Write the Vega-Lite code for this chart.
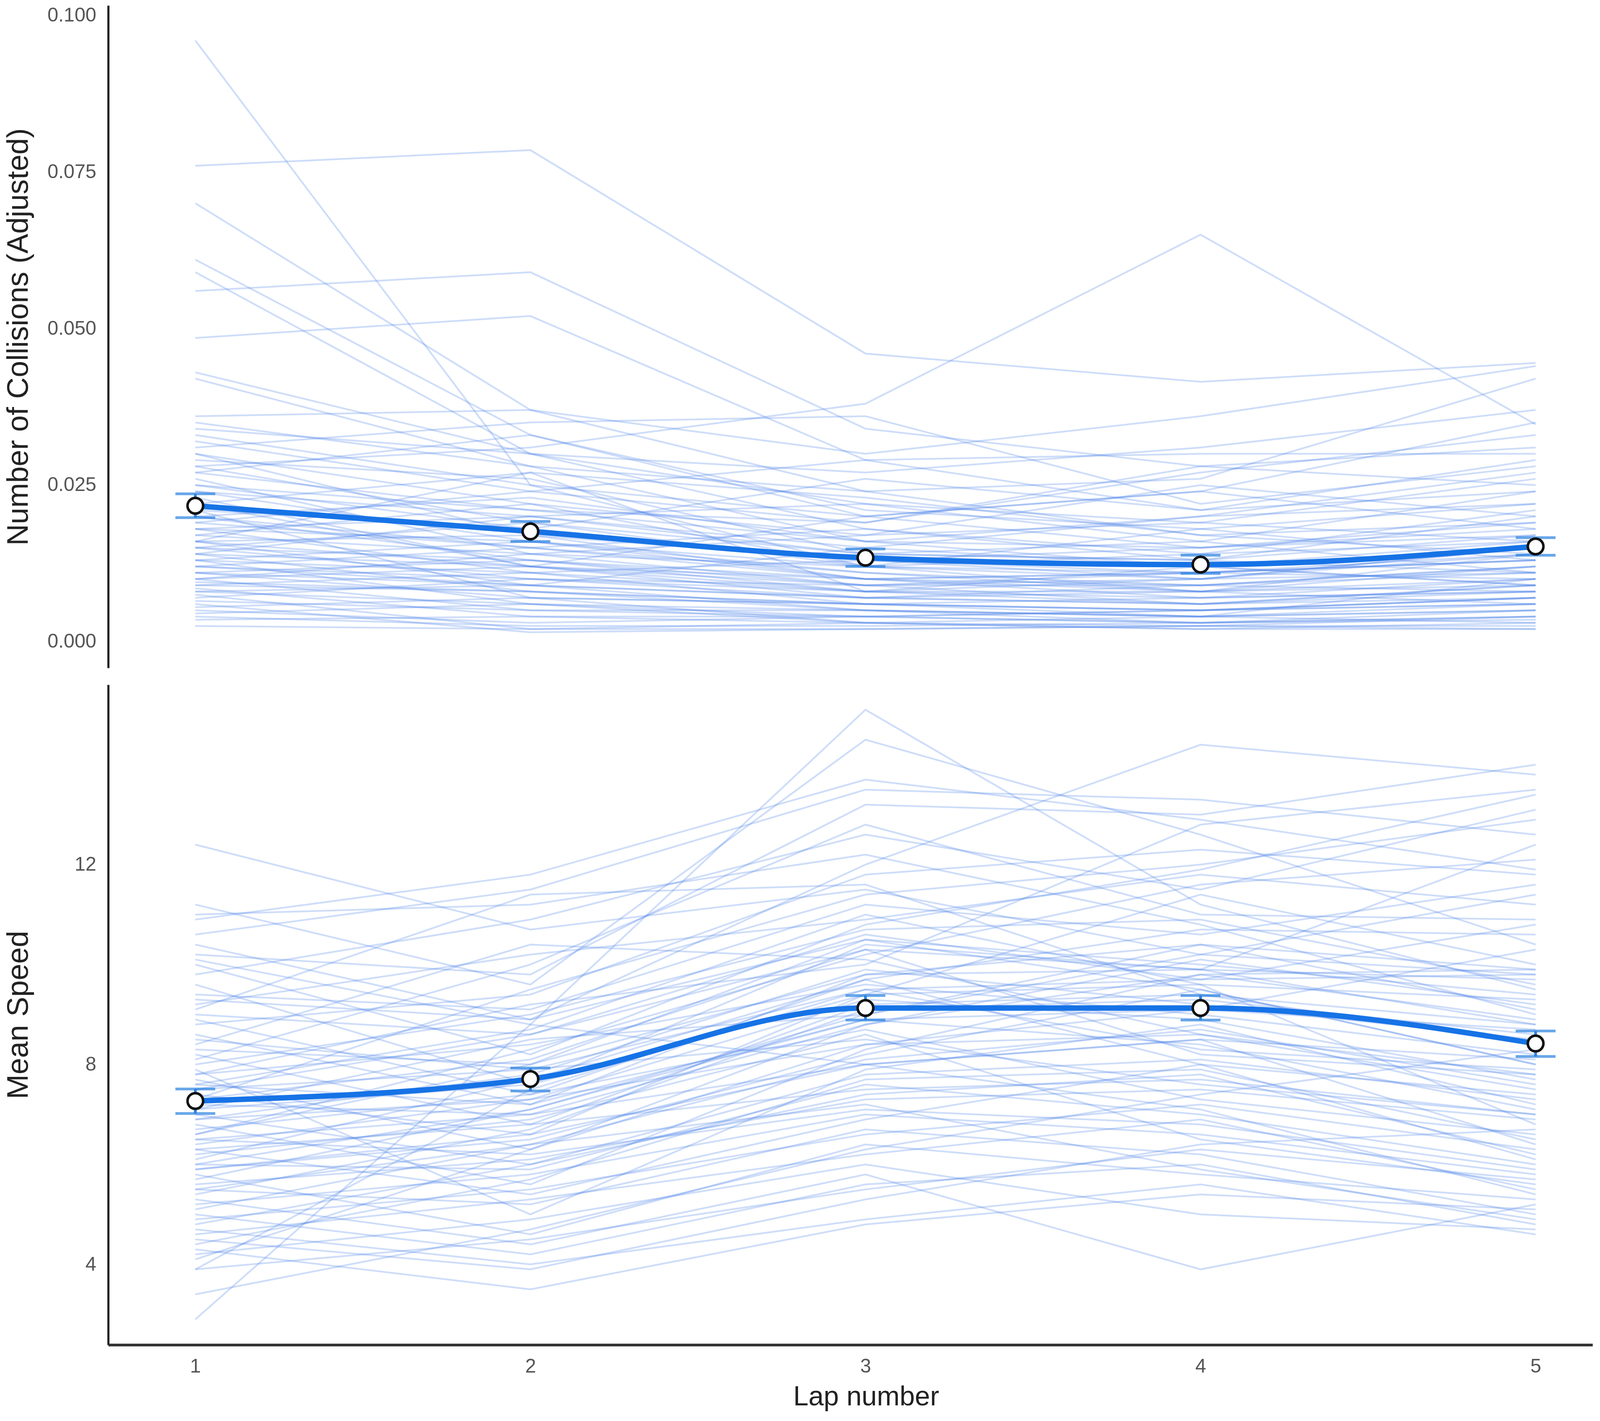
{
  "$schema": "https://vega.github.io/schema/vega-lite/v6.json",
  "padding": {"left": 9, "top": 14, "right": 16, "bottom": 8},
  "background": "white",
  "config": {
    "view": {"stroke": null},
    "font": "Liberation Sans",
    "axis": {
      "grid": false,
      "ticks": false,
      "domainColor": "#222222",
      "domainWidth": 5.5,
      "labelFont": "Liberation Sans",
      "labelFontSize": 50,
      "labelColor": "#555555",
      "labelPadding": 31,
      "titleFont": "Liberation Sans",
      "titleFontWeight": "normal",
      "titleColor": "#222222"
    },
    "axisY": {"titleAngle": 270, "titleBaseline": "middle", "titleX": -230, "titleFontSize": 76},
    "axisX": {"titleBaseline": "middle", "titleY": 133, "titleX": 1940, "titleFontSize": 70, "labelPadding": 30, "domainWidth": 7, "domainColor": "#333333"}
  },
  "datasets": {
    "subjects": [
      {"subject":1,"lap":1,"collisions":0.096,"speed":2.9},{"subject":1,"lap":2,"collisions":0.025,"speed":8.8},{"subject":1,"lap":3,"collisions":0.012,"speed":15.1},{"subject":1,"lap":4,"collisions":0.008,"speed":11.2},{"subject":1,"lap":5,"collisions":0.006,"speed":9.5},
      {"subject":2,"lap":1,"collisions":0.076,"speed":12.4},{"subject":2,"lap":2,"collisions":0.0785,"speed":10.7},{"subject":2,"lap":3,"collisions":0.046,"speed":11.5},{"subject":2,"lap":4,"collisions":0.0415,"speed":10.2},{"subject":2,"lap":5,"collisions":0.0445,"speed":9.8},
      {"subject":3,"lap":1,"collisions":0.070,"speed":11.2},{"subject":3,"lap":2,"collisions":0.037,"speed":9.6},{"subject":3,"lap":3,"collisions":0.024,"speed":14.5},{"subject":3,"lap":4,"collisions":0.017,"speed":12.6},{"subject":3,"lap":5,"collisions":0.014,"speed":10.4},
      {"subject":4,"lap":1,"collisions":0.061,"speed":10.9},{"subject":4,"lap":2,"collisions":0.033,"speed":11.8},{"subject":4,"lap":3,"collisions":0.020,"speed":13.7},{"subject":4,"lap":4,"collisions":0.015,"speed":12.9},{"subject":4,"lap":5,"collisions":0.018,"speed":11.9},
      {"subject":5,"lap":1,"collisions":0.059,"speed":10.6},{"subject":5,"lap":2,"collisions":0.030,"speed":11.5},{"subject":5,"lap":3,"collisions":0.022,"speed":13.5},{"subject":5,"lap":4,"collisions":0.019,"speed":13.3},{"subject":5,"lap":5,"collisions":0.016,"speed":12.6},
      {"subject":6,"lap":1,"collisions":0.056,"speed":10.4},{"subject":6,"lap":2,"collisions":0.059,"speed":8.9},{"subject":6,"lap":3,"collisions":0.034,"speed":12.0},{"subject":6,"lap":4,"collisions":0.028,"speed":14.4},{"subject":6,"lap":5,"collisions":0.025,"speed":13.8},
      {"subject":7,"lap":1,"collisions":0.0485,"speed":10.2},{"subject":7,"lap":2,"collisions":0.052,"speed":9.8},{"subject":7,"lap":3,"collisions":0.029,"speed":13.2},{"subject":7,"lap":4,"collisions":0.021,"speed":13.0},{"subject":7,"lap":5,"collisions":0.024,"speed":14.0},
      {"subject":8,"lap":1,"collisions":0.043,"speed":10.0},{"subject":8,"lap":2,"collisions":0.030,"speed":8.2},{"subject":8,"lap":3,"collisions":0.018,"speed":10.8},{"subject":8,"lap":4,"collisions":0.013,"speed":11.9},{"subject":8,"lap":5,"collisions":0.011,"speed":13.4},
      {"subject":9,"lap":1,"collisions":0.042,"speed":9.8},{"subject":9,"lap":2,"collisions":0.028,"speed":10.9},{"subject":9,"lap":3,"collisions":0.016,"speed":12.6},{"subject":9,"lap":4,"collisions":0.012,"speed":11.5},{"subject":9,"lap":5,"collisions":0.009,"speed":13.1},
      {"subject":10,"lap":1,"collisions":0.028,"speed":9.6},{"subject":10,"lap":2,"collisions":0.031,"speed":7.6},{"subject":10,"lap":3,"collisions":0.038,"speed":10.4},{"subject":10,"lap":4,"collisions":0.065,"speed":9.9},{"subject":10,"lap":5,"collisions":0.0347,"speed":12.4},
      {"subject":11,"lap":1,"collisions":0.036,"speed":9.4},{"subject":11,"lap":2,"collisions":0.037,"speed":9.1},{"subject":11,"lap":3,"collisions":0.030,"speed":11.2},{"subject":11,"lap":4,"collisions":0.036,"speed":10.6},{"subject":11,"lap":5,"collisions":0.044,"speed":11.6},
      {"subject":12,"lap":1,"collisions":0.035,"speed":9.2},{"subject":12,"lap":2,"collisions":0.028,"speed":10.2},{"subject":12,"lap":3,"collisions":0.024,"speed":10.9},{"subject":12,"lap":4,"collisions":0.026,"speed":11.8},{"subject":12,"lap":5,"collisions":0.042,"speed":11.2},
      {"subject":13,"lap":1,"collisions":0.034,"speed":9.0},{"subject":13,"lap":2,"collisions":0.030,"speed":8.6},{"subject":13,"lap":3,"collisions":0.027,"speed":10.6},{"subject":13,"lap":4,"collisions":0.031,"speed":9.7},{"subject":13,"lap":5,"collisions":0.037,"speed":10.8},
      {"subject":14,"lap":1,"collisions":0.033,"speed":8.8},{"subject":14,"lap":2,"collisions":0.025,"speed":9.4},{"subject":14,"lap":3,"collisions":0.020,"speed":11.8},{"subject":14,"lap":4,"collisions":0.024,"speed":12.3},{"subject":14,"lap":5,"collisions":0.035,"speed":11.8},
      {"subject":15,"lap":1,"collisions":0.032,"speed":8.6},{"subject":15,"lap":2,"collisions":0.024,"speed":7.2},{"subject":15,"lap":3,"collisions":0.029,"speed":9.8},{"subject":15,"lap":4,"collisions":0.030,"speed":10.4},{"subject":15,"lap":5,"collisions":0.030,"speed":9.9},
      {"subject":16,"lap":1,"collisions":0.031,"speed":8.4},{"subject":16,"lap":2,"collisions":0.035,"speed":10.4},{"subject":16,"lap":3,"collisions":0.036,"speed":10.1},{"subject":16,"lap":4,"collisions":0.022,"speed":8.6},{"subject":16,"lap":5,"collisions":0.028,"speed":7.5},
      {"subject":17,"lap":1,"collisions":0.030,"speed":8.2},{"subject":17,"lap":2,"collisions":0.022,"speed":6.8},{"subject":17,"lap":3,"collisions":0.017,"speed":9.2},{"subject":17,"lap":4,"collisions":0.019,"speed":9.4},{"subject":17,"lap":5,"collisions":0.026,"speed":8.8},
      {"subject":18,"lap":1,"collisions":0.029,"speed":8.0},{"subject":18,"lap":2,"collisions":0.026,"speed":9.0},{"subject":18,"lap":3,"collisions":0.014,"speed":10.7},{"subject":18,"lap":4,"collisions":0.013,"speed":10.9},{"subject":18,"lap":5,"collisions":0.020,"speed":9.6},
      {"subject":19,"lap":1,"collisions":0.028,"speed":7.9},{"subject":19,"lap":2,"collisions":0.019,"speed":5.0},{"subject":19,"lap":3,"collisions":0.012,"speed":7.9},{"subject":19,"lap":4,"collisions":0.010,"speed":8.8},{"subject":19,"lap":5,"collisions":0.014,"speed":7.2},
      {"subject":20,"lap":1,"collisions":0.027,"speed":7.8},{"subject":20,"lap":2,"collisions":0.033,"speed":8.4},{"subject":20,"lap":3,"collisions":0.021,"speed":9.6},{"subject":20,"lap":4,"collisions":0.018,"speed":9.0},{"subject":20,"lap":5,"collisions":0.022,"speed":8.2},
      {"subject":21,"lap":1,"collisions":0.026,"speed":7.7},{"subject":21,"lap":2,"collisions":0.014,"speed":6.3},{"subject":21,"lap":3,"collisions":0.009,"speed":8.8},{"subject":21,"lap":4,"collisions":0.011,"speed":10.1},{"subject":21,"lap":5,"collisions":0.013,"speed":9.2},
      {"subject":22,"lap":1,"collisions":0.025,"speed":7.6},{"subject":22,"lap":2,"collisions":0.021,"speed":8.7},{"subject":22,"lap":3,"collisions":0.019,"speed":11.0},{"subject":22,"lap":4,"collisions":0.028,"speed":9.6},{"subject":22,"lap":5,"collisions":0.031,"speed":6.8},
      {"subject":23,"lap":1,"collisions":0.024,"speed":7.5},{"subject":23,"lap":2,"collisions":0.016,"speed":7.9},{"subject":23,"lap":3,"collisions":0.010,"speed":8.5},{"subject":23,"lap":4,"collisions":0.008,"speed":7.6},{"subject":23,"lap":5,"collisions":0.012,"speed":7.0},
      {"subject":24,"lap":1,"collisions":0.023,"speed":7.4},{"subject":24,"lap":2,"collisions":0.012,"speed":6.6},{"subject":24,"lap":3,"collisions":0.007,"speed":9.4},{"subject":24,"lap":4,"collisions":0.006,"speed":11.4},{"subject":24,"lap":5,"collisions":0.009,"speed":10.0},
      {"subject":25,"lap":1,"collisions":0.022,"speed":7.3},{"subject":25,"lap":2,"collisions":0.027,"speed":8.1},{"subject":25,"lap":3,"collisions":0.023,"speed":10.3},{"subject":25,"lap":4,"collisions":0.017,"speed":8.2},{"subject":25,"lap":5,"collisions":0.019,"speed":7.8},
      {"subject":26,"lap":1,"collisions":0.021,"speed":7.2},{"subject":26,"lap":2,"collisions":0.018,"speed":7.0},{"subject":26,"lap":3,"collisions":0.013,"speed":8.0},{"subject":26,"lap":4,"collisions":0.015,"speed":8.5},{"subject":26,"lap":5,"collisions":0.017,"speed":6.4},
      {"subject":27,"lap":1,"collisions":0.020,"speed":7.1},{"subject":27,"lap":2,"collisions":0.013,"speed":8.5},{"subject":27,"lap":3,"collisions":0.008,"speed":9.0},{"subject":27,"lap":4,"collisions":0.007,"speed":10.4},{"subject":27,"lap":5,"collisions":0.010,"speed":9.1},
      {"subject":28,"lap":1,"collisions":0.020,"speed":7.0},{"subject":28,"lap":2,"collisions":0.023,"speed":6.0},{"subject":28,"lap":3,"collisions":0.016,"speed":7.4},{"subject":28,"lap":4,"collisions":0.020,"speed":7.8},{"subject":28,"lap":5,"collisions":0.027,"speed":6.2},
      {"subject":29,"lap":1,"collisions":0.019,"speed":6.9},{"subject":29,"lap":2,"collisions":0.015,"speed":7.8},{"subject":29,"lap":3,"collisions":0.011,"speed":9.9},{"subject":29,"lap":4,"collisions":0.009,"speed":9.2},{"subject":29,"lap":5,"collisions":0.008,"speed":8.5},
      {"subject":30,"lap":1,"collisions":0.018,"speed":6.8},{"subject":30,"lap":2,"collisions":0.020,"speed":5.6},{"subject":30,"lap":3,"collisions":0.015,"speed":8.3},{"subject":30,"lap":4,"collisions":0.012,"speed":9.8},{"subject":30,"lap":5,"collisions":0.016,"speed":8.9},
      {"subject":31,"lap":1,"collisions":0.018,"speed":6.7},{"subject":31,"lap":2,"collisions":0.011,"speed":7.4},{"subject":31,"lap":3,"collisions":0.006,"speed":8.7},{"subject":31,"lap":4,"collisions":0.005,"speed":7.3},{"subject":31,"lap":5,"collisions":0.007,"speed":6.6},
      {"subject":32,"lap":1,"collisions":0.017,"speed":6.6},{"subject":32,"lap":2,"collisions":0.014,"speed":8.0},{"subject":32,"lap":3,"collisions":0.012,"speed":10.5},{"subject":32,"lap":4,"collisions":0.014,"speed":10.0},{"subject":32,"lap":5,"collisions":0.021,"speed":9.4},
      {"subject":33,"lap":1,"collisions":0.016,"speed":6.5},{"subject":33,"lap":2,"collisions":0.009,"speed":6.2},{"subject":33,"lap":3,"collisions":0.005,"speed":7.1},{"subject":33,"lap":4,"collisions":0.004,"speed":6.8},{"subject":33,"lap":5,"collisions":0.006,"speed":5.9},
      {"subject":34,"lap":1,"collisions":0.016,"speed":6.4},{"subject":34,"lap":2,"collisions":0.017,"speed":7.3},{"subject":34,"lap":3,"collisions":0.010,"speed":9.3},{"subject":34,"lap":4,"collisions":0.011,"speed":8.9},{"subject":34,"lap":5,"collisions":0.013,"speed":7.7},
      {"subject":35,"lap":1,"collisions":0.015,"speed":6.3},{"subject":35,"lap":2,"collisions":0.010,"speed":5.4},{"subject":35,"lap":3,"collisions":0.008,"speed":6.9},{"subject":35,"lap":4,"collisions":0.006,"speed":8.0},{"subject":35,"lap":5,"collisions":0.009,"speed":7.4},
      {"subject":36,"lap":1,"collisions":0.015,"speed":6.2},{"subject":36,"lap":2,"collisions":0.019,"speed":6.9},{"subject":36,"lap":3,"collisions":0.014,"speed":8.6},{"subject":36,"lap":4,"collisions":0.016,"speed":6.5},{"subject":36,"lap":5,"collisions":0.024,"speed":5.6},
      {"subject":37,"lap":1,"collisions":0.014,"speed":6.1},{"subject":37,"lap":2,"collisions":0.008,"speed":7.7},{"subject":37,"lap":3,"collisions":0.005,"speed":9.7},{"subject":37,"lap":4,"collisions":0.003,"speed":10.7},{"subject":37,"lap":5,"collisions":0.004,"speed":10.6},
      {"subject":38,"lap":1,"collisions":0.014,"speed":6.0},{"subject":38,"lap":2,"collisions":0.012,"speed":5.9},{"subject":38,"lap":3,"collisions":0.009,"speed":7.6},{"subject":38,"lap":4,"collisions":0.010,"speed":7.0},{"subject":38,"lap":5,"collisions":0.011,"speed":6.0},
      {"subject":39,"lap":1,"collisions":0.013,"speed":5.9},{"subject":39,"lap":2,"collisions":0.016,"speed":6.5},{"subject":39,"lap":3,"collisions":0.011,"speed":8.2},{"subject":39,"lap":4,"collisions":0.008,"speed":9.5},{"subject":39,"lap":5,"collisions":0.014,"speed":8.0},
      {"subject":40,"lap":1,"collisions":0.013,"speed":5.8},{"subject":40,"lap":2,"collisions":0.006,"speed":4.6},{"subject":40,"lap":3,"collisions":0.004,"speed":6.4},{"subject":40,"lap":4,"collisions":0.005,"speed":5.8},{"subject":40,"lap":5,"collisions":0.007,"speed":5.3},
      {"subject":41,"lap":1,"collisions":0.012,"speed":5.7},{"subject":41,"lap":2,"collisions":0.010,"speed":7.1},{"subject":41,"lap":3,"collisions":0.007,"speed":8.9},{"subject":41,"lap":4,"collisions":0.009,"speed":8.4},{"subject":41,"lap":5,"collisions":0.012,"speed":7.1},
      {"subject":42,"lap":1,"collisions":0.012,"speed":5.6},{"subject":42,"lap":2,"collisions":0.015,"speed":6.1},{"subject":42,"lap":3,"collisions":0.018,"speed":7.3},{"subject":42,"lap":4,"collisions":0.014,"speed":7.5},{"subject":42,"lap":5,"collisions":0.016,"speed":6.9},
      {"subject":43,"lap":1,"collisions":0.011,"speed":5.5},{"subject":43,"lap":2,"collisions":0.007,"speed":5.2},{"subject":43,"lap":3,"collisions":0.003,"speed":6.7},{"subject":43,"lap":4,"collisions":0.0025,"speed":6.2},{"subject":43,"lap":5,"collisions":0.004,"speed":5.0},
      {"subject":44,"lap":1,"collisions":0.011,"speed":5.4},{"subject":44,"lap":2,"collisions":0.013,"speed":6.7},{"subject":44,"lap":3,"collisions":0.010,"speed":9.1},{"subject":44,"lap":4,"collisions":0.007,"speed":9.3},{"subject":44,"lap":5,"collisions":0.008,"speed":8.6},
      {"subject":45,"lap":1,"collisions":0.010,"speed":5.3},{"subject":45,"lap":2,"collisions":0.005,"speed":4.4},{"subject":45,"lap":3,"collisions":0.004,"speed":5.8},{"subject":45,"lap":4,"collisions":0.003,"speed":3.9},{"subject":45,"lap":5,"collisions":0.005,"speed":5.2},
      {"subject":46,"lap":1,"collisions":0.010,"speed":5.2},{"subject":46,"lap":2,"collisions":0.012,"speed":5.8},{"subject":46,"lap":3,"collisions":0.008,"speed":7.0},{"subject":46,"lap":4,"collisions":0.010,"speed":6.6},{"subject":46,"lap":5,"collisions":0.015,"speed":5.8},
      {"subject":47,"lap":1,"collisions":0.0095,"speed":5.1},{"subject":47,"lap":2,"collisions":0.008,"speed":6.4},{"subject":47,"lap":3,"collisions":0.006,"speed":8.1},{"subject":47,"lap":4,"collisions":0.005,"speed":8.7},{"subject":47,"lap":5,"collisions":0.006,"speed":7.6},
      {"subject":48,"lap":1,"collisions":0.009,"speed":5.0},{"subject":48,"lap":2,"collisions":0.011,"speed":4.2},{"subject":48,"lap":3,"collisions":0.013,"speed":5.6},{"subject":48,"lap":4,"collisions":0.011,"speed":6.0},{"subject":48,"lap":5,"collisions":0.010,"speed":4.8},
      {"subject":49,"lap":1,"collisions":0.0085,"speed":4.9},{"subject":49,"lap":2,"collisions":0.004,"speed":5.5},{"subject":49,"lap":3,"collisions":0.003,"speed":6.6},{"subject":49,"lap":4,"collisions":0.002,"speed":7.2},{"subject":49,"lap":5,"collisions":0.003,"speed":6.3},
      {"subject":50,"lap":1,"collisions":0.008,"speed":4.8},{"subject":50,"lap":2,"collisions":0.009,"speed":6.0},{"subject":50,"lap":3,"collisions":0.007,"speed":7.8},{"subject":50,"lap":4,"collisions":0.008,"speed":8.1},{"subject":50,"lap":5,"collisions":0.009,"speed":7.3},
      {"subject":51,"lap":1,"collisions":0.0075,"speed":4.7},{"subject":51,"lap":2,"collisions":0.002,"speed":4.0},{"subject":51,"lap":3,"collisions":0.003,"speed":4.9},{"subject":51,"lap":4,"collisions":0.004,"speed":5.6},{"subject":51,"lap":5,"collisions":0.003,"speed":4.6},
      {"subject":52,"lap":1,"collisions":0.007,"speed":4.6},{"subject":52,"lap":2,"collisions":0.010,"speed":5.3},{"subject":52,"lap":3,"collisions":0.009,"speed":6.2},{"subject":52,"lap":4,"collisions":0.006,"speed":6.9},{"subject":52,"lap":5,"collisions":0.007,"speed":5.5},
      {"subject":53,"lap":1,"collisions":0.0065,"speed":4.5},{"subject":53,"lap":2,"collisions":0.005,"speed":3.9},{"subject":53,"lap":3,"collisions":0.005,"speed":5.3},{"subject":53,"lap":4,"collisions":0.004,"speed":6.4},{"subject":53,"lap":5,"collisions":0.005,"speed":6.7},
      {"subject":54,"lap":1,"collisions":0.006,"speed":4.4},{"subject":54,"lap":2,"collisions":0.0015,"speed":5.7},{"subject":54,"lap":3,"collisions":0.002,"speed":7.7},{"subject":54,"lap":4,"collisions":0.0025,"speed":7.9},{"subject":54,"lap":5,"collisions":0.0025,"speed":6.5},
      {"subject":55,"lap":1,"collisions":0.0055,"speed":4.3},{"subject":55,"lap":2,"collisions":0.007,"speed":3.5},{"subject":55,"lap":3,"collisions":0.006,"speed":4.8},{"subject":55,"lap":4,"collisions":0.007,"speed":5.4},{"subject":55,"lap":5,"collisions":0.008,"speed":5.1},
      {"subject":56,"lap":1,"collisions":0.005,"speed":4.2},{"subject":56,"lap":2,"collisions":0.003,"speed":4.9},{"subject":56,"lap":3,"collisions":0.004,"speed":6.0},{"subject":56,"lap":4,"collisions":0.003,"speed":5.0},{"subject":56,"lap":5,"collisions":0.004,"speed":4.7},
      {"subject":57,"lap":1,"collisions":0.0045,"speed":4.1},{"subject":57,"lap":2,"collisions":0.006,"speed":6.3},{"subject":57,"lap":3,"collisions":0.003,"speed":8.4},{"subject":57,"lap":4,"collisions":0.002,"speed":9.1},{"subject":57,"lap":5,"collisions":0.002,"speed":10.3},
      {"subject":58,"lap":1,"collisions":0.004,"speed":3.9},{"subject":58,"lap":2,"collisions":0.0025,"speed":4.5},{"subject":58,"lap":3,"collisions":0.0025,"speed":5.5},{"subject":58,"lap":4,"collisions":0.003,"speed":6.3},{"subject":58,"lap":5,"collisions":0.0035,"speed":5.7},
      {"subject":59,"lap":1,"collisions":0.0035,"speed":3.4},{"subject":59,"lap":2,"collisions":0.004,"speed":4.7},{"subject":59,"lap":3,"collisions":0.004,"speed":6.3},{"subject":59,"lap":4,"collisions":0.005,"speed":7.4},{"subject":59,"lap":5,"collisions":0.006,"speed":8.3},
      {"subject":60,"lap":1,"collisions":0.0025,"speed":3.9},{"subject":60,"lap":2,"collisions":0.002,"speed":7.5},{"subject":60,"lap":3,"collisions":0.002,"speed":9.5},{"subject":60,"lap":4,"collisions":0.0025,"speed":8.3},{"subject":60,"lap":5,"collisions":0.002,"speed":7.9},
      {"subject":61,"lap":1,"collisions":0.017,"speed":11.0},{"subject":61,"lap":2,"collisions":0.022,"speed":11.2},{"subject":61,"lap":3,"collisions":0.012,"speed":12.2},{"subject":61,"lap":4,"collisions":0.018,"speed":10.8},{"subject":61,"lap":5,"collisions":0.013,"speed":9.0},
      {"subject":62,"lap":1,"collisions":0.022,"speed":9.1},{"subject":62,"lap":2,"collisions":0.012,"speed":11.4},{"subject":62,"lap":3,"collisions":0.020,"speed":11.6},{"subject":62,"lap":4,"collisions":0.024,"speed":9.4},{"subject":62,"lap":5,"collisions":0.018,"speed":8.4},
      {"subject":63,"lap":1,"collisions":0.025,"speed":8.1},{"subject":63,"lap":2,"collisions":0.018,"speed":10.0},{"subject":63,"lap":3,"collisions":0.026,"speed":12.8},{"subject":63,"lap":4,"collisions":0.021,"speed":11.0},{"subject":63,"lap":5,"collisions":0.029,"speed":10.9},
      {"subject":64,"lap":1,"collisions":0.019,"speed":7.3},{"subject":64,"lap":2,"collisions":0.024,"speed":9.5},{"subject":64,"lap":3,"collisions":0.019,"speed":11.4},{"subject":64,"lap":4,"collisions":0.027,"speed":12.0},{"subject":64,"lap":5,"collisions":0.033,"speed":12.9},
      {"subject":65,"lap":1,"collisions":0.014,"speed":6.6},{"subject":65,"lap":2,"collisions":0.020,"speed":8.3},{"subject":65,"lap":3,"collisions":0.022,"speed":10.2},{"subject":65,"lap":4,"collisions":0.016,"speed":11.6},{"subject":65,"lap":5,"collisions":0.011,"speed":12.1},
      {"subject":66,"lap":1,"collisions":0.030,"speed":6.0},{"subject":66,"lap":2,"collisions":0.017,"speed":7.1},{"subject":66,"lap":3,"collisions":0.013,"speed":9.0},{"subject":66,"lap":4,"collisions":0.010,"speed":10.2},{"subject":66,"lap":5,"collisions":0.015,"speed":11.4},
      {"subject":67,"lap":1,"collisions":0.012,"speed":8.9},{"subject":67,"lap":2,"collisions":0.009,"speed":7.4},{"subject":67,"lap":3,"collisions":0.015,"speed":9.7},{"subject":67,"lap":4,"collisions":0.020,"speed":8.0},{"subject":67,"lap":5,"collisions":0.022,"speed":6.1},
      {"subject":68,"lap":1,"collisions":0.016,"speed":10.1},{"subject":68,"lap":2,"collisions":0.027,"speed":8.8},{"subject":68,"lap":3,"collisions":0.008,"speed":8.0},{"subject":68,"lap":4,"collisions":0.012,"speed":7.1},{"subject":68,"lap":5,"collisions":0.009,"speed":5.4},
      {"subject":69,"lap":1,"collisions":0.021,"speed":5.5},{"subject":69,"lap":2,"collisions":0.007,"speed":6.4},{"subject":69,"lap":3,"collisions":0.006,"speed":7.2},{"subject":69,"lap":4,"collisions":0.004,"speed":5.9},{"subject":69,"lap":5,"collisions":0.010,"speed":4.9},
      {"subject":70,"lap":1,"collisions":0.010,"speed":7.8},{"subject":70,"lap":2,"collisions":0.014,"speed":9.2},{"subject":70,"lap":3,"collisions":0.017,"speed":10.0},{"subject":70,"lap":4,"collisions":0.025,"speed":12.8},{"subject":70,"lap":5,"collisions":0.020,"speed":13.5},
      {"subject":71,"lap":1,"collisions":0.020,"speed":8.3},{"subject":71,"lap":2,"collisions":0.015,"speed":8.0},{"subject":71,"lap":3,"collisions":0.010,"speed":9.8},{"subject":71,"lap":4,"collisions":0.011,"speed":9.9},{"subject":71,"lap":5,"collisions":0.014,"speed":9.7},
      {"subject":72,"lap":1,"collisions":0.015,"speed":7.1},{"subject":72,"lap":2,"collisions":0.013,"speed":7.6},{"subject":72,"lap":3,"collisions":0.009,"speed":9.4},{"subject":72,"lap":4,"collisions":0.009,"speed":9.6},{"subject":72,"lap":5,"collisions":0.012,"speed":9.3},
      {"subject":73,"lap":1,"collisions":0.013,"speed":6.5},{"subject":73,"lap":2,"collisions":0.011,"speed":7.0},{"subject":73,"lap":3,"collisions":0.008,"speed":8.8},{"subject":73,"lap":4,"collisions":0.008,"speed":9.8},{"subject":73,"lap":5,"collisions":0.010,"speed":9.9},
      {"subject":74,"lap":1,"collisions":0.018,"speed":7.5},{"subject":74,"lap":2,"collisions":0.016,"speed":8.6},{"subject":74,"lap":3,"collisions":0.012,"speed":10.3},{"subject":74,"lap":4,"collisions":0.011,"speed":9.9},{"subject":74,"lap":5,"collisions":0.013,"speed":8.8},
      {"subject":75,"lap":1,"collisions":0.009,"speed":6.9},{"subject":75,"lap":2,"collisions":0.008,"speed":7.3},{"subject":75,"lap":3,"collisions":0.006,"speed":8.4},{"subject":75,"lap":4,"collisions":0.005,"speed":8.6},{"subject":75,"lap":5,"collisions":0.007,"speed":7.8},
      {"subject":76,"lap":1,"collisions":0.024,"speed":8.5},{"subject":76,"lap":2,"collisions":0.020,"speed":7.9},{"subject":76,"lap":3,"collisions":0.014,"speed":9.5},{"subject":76,"lap":4,"collisions":0.013,"speed":9.7},{"subject":76,"lap":5,"collisions":0.017,"speed":9.8},
      {"subject":77,"lap":1,"collisions":0.011,"speed":5.9},{"subject":77,"lap":2,"collisions":0.009,"speed":6.6},{"subject":77,"lap":3,"collisions":0.007,"speed":8.0},{"subject":77,"lap":4,"collisions":0.006,"speed":8.5},{"subject":77,"lap":5,"collisions":0.008,"speed":8.1},
      {"subject":78,"lap":1,"collisions":0.027,"speed":9.3},{"subject":78,"lap":2,"collisions":0.021,"speed":8.9},{"subject":78,"lap":3,"collisions":0.016,"speed":10.5},{"subject":78,"lap":4,"collisions":0.015,"speed":9.5},{"subject":78,"lap":5,"collisions":0.019,"speed":8.0},
      {"subject":79,"lap":1,"collisions":0.008,"speed":6.3},{"subject":79,"lap":2,"collisions":0.006,"speed":6.8},{"subject":79,"lap":3,"collisions":0.005,"speed":7.5},{"subject":79,"lap":4,"collisions":0.004,"speed":7.7},{"subject":79,"lap":5,"collisions":0.005,"speed":7.0},
      {"subject":80,"lap":1,"collisions":0.016,"speed":7.6},{"subject":80,"lap":2,"collisions":0.012,"speed":7.2},{"subject":80,"lap":3,"collisions":0.010,"speed":8.9},{"subject":80,"lap":4,"collisions":0.009,"speed":9.1},{"subject":80,"lap":5,"collisions":0.011,"speed":8.7}
    ],
    "means": [
      {"lap":1,"col_mean":0.0217,"col_lo":0.0198,"col_hi":0.0236,"spd_mean":7.27,"spd_lo":7.02,"spd_hi":7.51},
      {"lap":2,"col_mean":0.0176,"col_lo":0.0160,"col_hi":0.0192,"spd_mean":7.71,"spd_lo":7.47,"spd_hi":7.93},
      {"lap":3,"col_mean":0.0134,"col_lo":0.0120,"col_hi":0.0148,"spd_mean":9.13,"spd_lo":8.89,"spd_hi":9.38},
      {"lap":4,"col_mean":0.0123,"col_lo":0.0109,"col_hi":0.0138,"spd_mean":9.13,"spd_lo":8.89,"spd_hi":9.38},
      {"lap":5,"col_mean":0.0152,"col_lo":0.0138,"col_hi":0.0166,"spd_mean":8.42,"spd_lo":8.16,"spd_hi":8.67}
    ]
  },
  "spacing": 43,
  "vconcat": [
    {
      "width": 3800,
      "height": 1696,
      "layer": [
        {
          "data": {"name": "subjects"},
          "mark": {"type": "line", "color": "#4f86e8", "strokeWidth": 4.5, "opacity": 0.28},
          "encoding": {
            "x": {"field": "lap", "type": "quantitative", "scale": {"domain": [0.74, 5.17], "nice": false, "zero": false}, "axis": null},
            "y": {"field": "collisions", "type": "quantitative", "title": "Number of Collisions (Adjusted)", "scale": {"domain": [-0.0042, 0.1016], "nice": false, "zero": false}, "axis": {"values": [0, 0.025, 0.05, 0.075, 0.1], "format": ".3f"}},
            "detail": {"field": "subject", "type": "nominal"}
          }
        },
        {
          "data": {"name": "means"},
          "mark": {"type": "errorbar", "ticks": {"size": 102, "thickness": 7, "color": "#2a82e0"}, "rule": {"strokeWidth": 7, "color": "#2a82e0"}},
          "encoding": {
            "x": {"field": "lap", "type": "quantitative"},
            "y": {"field": "col_lo", "type": "quantitative", "title": "Number of Collisions (Adjusted)"},
            "y2": {"field": "col_hi"}
          }
        },
        {
          "data": {"name": "means"},
          "mark": {"type": "line", "color": "#1673e6", "strokeWidth": 14, "interpolate": "monotone"},
          "encoding": {
            "x": {"field": "lap", "type": "quantitative"},
            "y": {"field": "col_mean", "type": "quantitative", "title": "Number of Collisions (Adjusted)"}
          }
        },
        {
          "data": {"name": "means"},
          "mark": {"type": "point", "shape": "circle", "filled": true, "fill": "white", "stroke": "#111111", "strokeWidth": 6.5, "size": 1600, "opacity": 1},
          "encoding": {
            "x": {"field": "lap", "type": "quantitative"},
            "y": {"field": "col_mean", "type": "quantitative", "title": "Number of Collisions (Adjusted)"}
          }
        }
      ]
    },
    {
      "width": 3800,
      "height": 1690,
      "layer": [
        {
          "data": {"name": "subjects"},
          "mark": {"type": "line", "color": "#4f86e8", "strokeWidth": 4.5, "opacity": 0.28},
          "encoding": {
            "x": {"field": "lap", "type": "quantitative", "title": "Lap number", "scale": {"domain": [0.74, 5.17], "nice": false, "zero": false}, "axis": {"values": [1, 2, 3, 4, 5], "format": "d"}},
            "y": {"field": "speed", "type": "quantitative", "title": "Mean Speed", "scale": {"domain": [2.39, 15.6], "nice": false, "zero": false}, "axis": {"values": [4, 8, 12], "format": "d"}},
            "detail": {"field": "subject", "type": "nominal"}
          }
        },
        {
          "data": {"name": "means"},
          "mark": {"type": "errorbar", "ticks": {"size": 102, "thickness": 7, "color": "#2a82e0"}, "rule": {"strokeWidth": 7, "color": "#2a82e0"}},
          "encoding": {
            "x": {"field": "lap", "type": "quantitative", "title": "Lap number"},
            "y": {"field": "spd_lo", "type": "quantitative", "title": "Mean Speed"},
            "y2": {"field": "spd_hi"}
          }
        },
        {
          "data": {"name": "means"},
          "mark": {"type": "line", "color": "#1673e6", "strokeWidth": 14, "interpolate": "monotone"},
          "encoding": {
            "x": {"field": "lap", "type": "quantitative", "title": "Lap number"},
            "y": {"field": "spd_mean", "type": "quantitative", "title": "Mean Speed"}
          }
        },
        {
          "data": {"name": "means"},
          "mark": {"type": "point", "shape": "circle", "filled": true, "fill": "white", "stroke": "#111111", "strokeWidth": 6.5, "size": 1600, "opacity": 1},
          "encoding": {
            "x": {"field": "lap", "type": "quantitative", "title": "Lap number"},
            "y": {"field": "spd_mean", "type": "quantitative", "title": "Mean Speed"}
          }
        }
      ]
    }
  ]
}
